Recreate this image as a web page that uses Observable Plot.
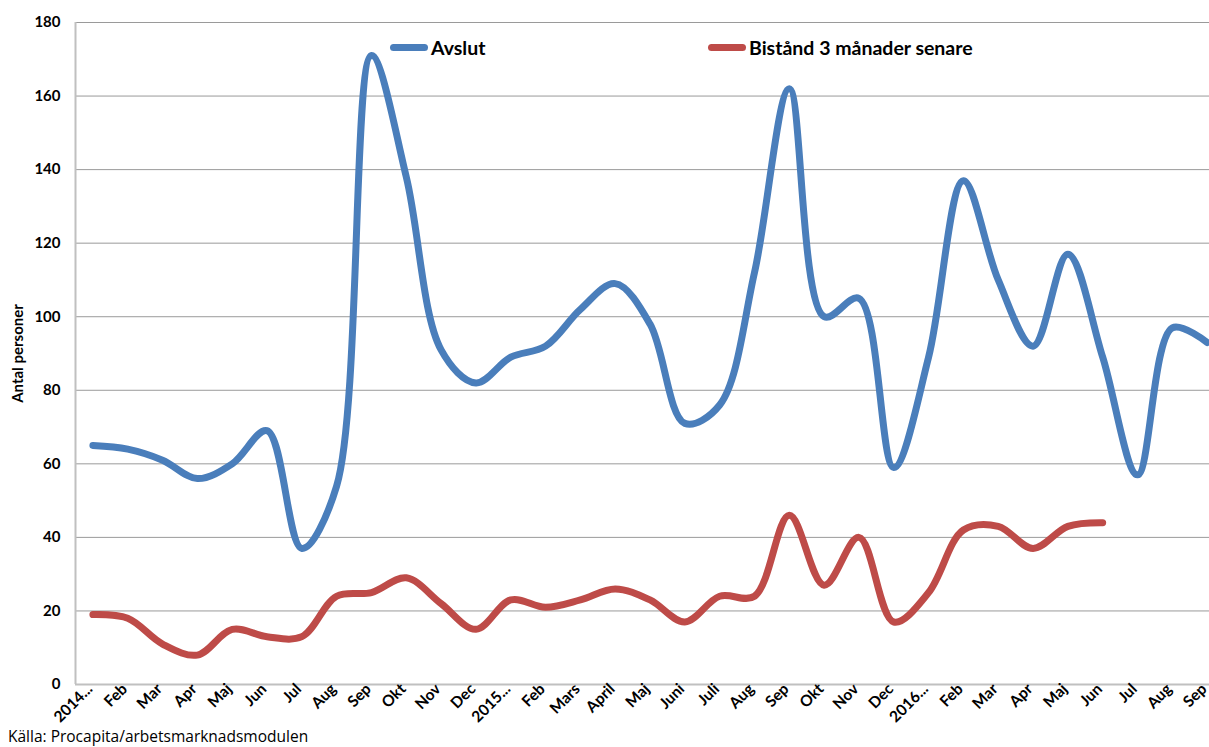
<!DOCTYPE html>
<html>
<head>
<meta charset="utf-8">
<script src="https://cdn.jsdelivr.net/npm/d3@7"></script>
<script src="https://cdn.jsdelivr.net/npm/@observablehq/plot@0.6"></script>
<style>
  html, body { margin: 0; padding: 0; background: #fff; }
  #wrap { position: relative; width: 1209px; height: 747px; font-family: Lato, "Open Sans", sans-serif; }
  #legend { position: absolute; top: 36px; left: 0; width: 1209px; height: 26px; font-weight: bold; font-size: 19.5px; color: #000; }
  .item { position: absolute; display: flex; align-items: center; }
  .sw { display: inline-block; width: 38px; height: 7px; border-radius: 4px; margin-right: 3px; }
  #caption { position: absolute; left: 8px; top: 727px; font-size: 15.5px; font-family: "Open Sans", sans-serif; color: #000; line-height: 18px; white-space: nowrap; }
</style>
</head>
<body>
<div id="wrap">
  <div id="chart"></div>
  <div id="legend">
    <div class="item" style="left:390px"><span class="sw" style="background:#4a7ebb"></span>Avslut</div>
    <div class="item" style="left:708px"><span class="sw" style="background:#be4b48"></span>Bistånd 3 månader senare</div>
  </div>
  <div id="caption">Källa: Procapita/arbetsmarknadsmodulen</div>
</div>
<script>
const monthLabels = ["2014...","Feb","Mar","Apr","Maj","Jun","Jul","Aug","Sep","Okt","Nov","Dec",
  "2015...","Feb","Mars","April","Maj","Juni","Juli","Aug","Sep","Okt","Nov","Dec",
  "2016...","Feb","Mar","Apr","Maj","Jun","Jul","Aug","Sep"];
const avslut = [65,64,61,56,60,69,37,54,171,138,91,82,
  89,92,102,109,98,71,76,112,162,100,105,59,
  89,137,110,92,117,89,57,97,93];
const bistand = [19,18,11,8,15,13,13,24,25,29,22,15,
  23,21,23,26,23,17,24,24,46,27,40,17,
  25,42,43,37,43,44];
const yTicks = [0,20,40,60,80,100,120,140,160,180];

const rowsA = avslut.map((v, i) => ({i, v}));
const rowsB = bistand.map((v, i) => ({i, v}));
const n = monthLabels.length;

const chart = Plot.plot({
  width: 1209,
  height: 727,
  marginLeft: 75,
  marginRight: 0,
  marginTop: 22,
  marginBottom: 43,
  style: {fontFamily: "Lato, 'Open Sans', sans-serif", fontSize: "14px", fontWeight: "bold", color: "#000", overflow: "visible"},
  x: {type: "linear", domain: [-0.5, n - 0.5], range: [75, 75 + 34.82 * n]},
  y: {domain: [0, 180]},
  marks: [
    Plot.ruleY(yTicks.filter(d => d > 0), {stroke: "#9a9a9a", strokeWidth: 1, strokeOpacity: 1}),
    Plot.ruleY([0], {stroke: "#c0c0c0", strokeWidth: 2}),
    Plot.ruleX([-0.5], {y1: 0, y2: 180, stroke: "#c0c0c0", strokeWidth: 2}),
    Plot.axisY({ticks: yTicks, tickSize: 0, tickPadding: 15, label: null, fontSize: 15}),
    Plot.text(["Antal personer"], {frameAnchor: "left", dx: -57, rotate: -90, textAnchor: "middle", fontSize: 15, fontWeight: "bold"}),
    Plot.axisX({ticks: d3.range(n), tickFormat: i => monthLabels[i], tickSize: 0, tickPadding: 2, tickRotate: -45, label: null, fontSize: 15.5, dx: -3, dy: 0}),
    Plot.line(rowsB, {x: "i", y: "v", stroke: "#be4b48", strokeWidth: 7, curve: "catmull-rom", strokeLinecap: "round", strokeLinejoin: "round"}),
    Plot.line(rowsA, {x: "i", y: "v", stroke: "#4a7ebb", strokeWidth: 7, curve: "catmull-rom", strokeLinecap: "round", strokeLinejoin: "round"})
  ]
});
document.getElementById("chart").append(chart);
</script>
</body>
</html>
